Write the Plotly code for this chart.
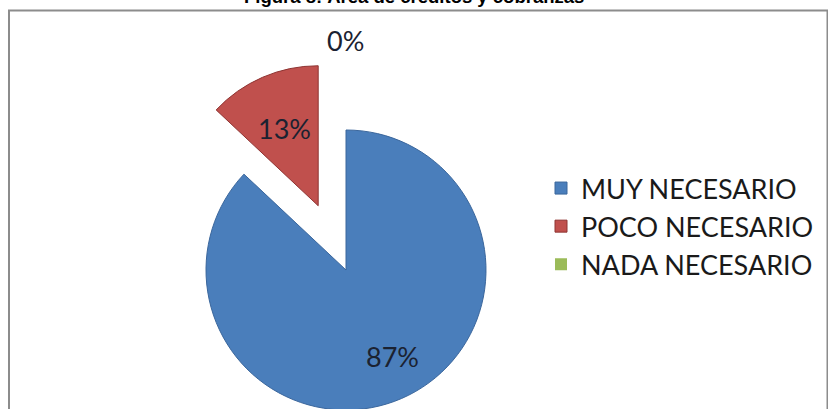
import math
import plotly.graph_objects as go

# Survey answers for the credits & collections area
categories = ["MUY NECESARIO", "POCO NECESARIO", "NADA NECESARIO"]
percentages = [87, 13, 0]
slice_colors = ["#4a7ebb", "#c0504d", "#9bbb59"]
edge_colors = ["#3a669c", "#8e3432", "#76923c"]
edge_widths = [1, 1, 0]
pulls = [0, 0.5, 0]
title_text = "Figura 8: Área de créditos y cobranzas"

# Canvas (taller than the visible window so the pie can run off the bottom edge)
W, H = 828, 480
CX, CY, R = 346, 270, 140          # pie centre and radius in pixels
box = R * (1 + max(pulls))         # plotly shrinks the pie to fit the pulled slice


def px(x):
    return x / W


def py(y):
    return 1 - y / H


fig = go.Figure()
fig.add_trace(go.Pie(
    labels=categories,
    values=percentages,
    sort=False,
    direction="clockwise",
    rotation=0,
    pull=pulls,
    marker=dict(colors=slice_colors, line=dict(color=edge_colors, width=edge_widths)),
    textinfo="none",
    hoverinfo="label+percent",
    domain=dict(x=[px(CX - box), px(CX + box)], y=[py(CY + box), py(CY - box)]),
))

# Percentage labels placed near each slice bisector
label_radius = [0.7, 0.6, 1.64]
label_turn = [-5, 0, 0]            # small angular nudge in degrees
total = sum(percentages)
start = 0.0
annotations = []
for val, pull, rr, turn in zip(percentages, pulls, label_radius, label_turn):
    span = 360.0 * val / total
    mid = math.radians(start + span / 2)
    ox = CX + pull * R * math.sin(mid)
    oy = CY - pull * R * math.cos(mid)
    lab = mid + math.radians(turn)
    lx = ox + rr * R * math.sin(lab)
    ly = oy - rr * R * math.cos(lab)
    annotations.append(dict(
        x=px(lx), y=py(ly), xref="paper", yref="paper",
        text=f"{round(100 * val / total)}%", showarrow=False,
        xanchor="center", yanchor="middle",
        font=dict(family="Lato, 'Open Sans', sans-serif", size=27, color="#1b2231"),
    ))
    start += span

annotations.append(dict(
    x=0.5, y=py(-3), xref="paper", yref="paper", text=f"<b>{title_text}</b>",
    showarrow=False, xanchor="center", yanchor="middle",
    font=dict(family="'Liberation Sans', Arial, sans-serif", size=18.5, color="#000000"),
))

fig.update_layout(
    width=W, height=H,
    margin=dict(l=0, r=0, t=0, b=0, autoexpand=False),
    paper_bgcolor="#ffffff",
    plot_bgcolor="#ffffff",
    showlegend=True,
    legend=dict(
        x=px(541), y=py(164), xanchor="left", yanchor="top",
        bgcolor="rgba(0,0,0,0)", borderwidth=0,
        font=dict(family="Lato, 'Open Sans', sans-serif", size=27, color="#1a1a1a"),
        itemclick=False, itemdoubleclick=False,
    ),
    annotations=annotations,
    shapes=[dict(
        type="rect", xref="paper", yref="paper",
        x0=px(9), x1=px(827.5), y0=py(10.5), y1=py(H + 20),
        line=dict(color="#8c8c8c", width=2), fillcolor="rgba(0,0,0,0)", layer="below",
    )],
)

fig.write_html(
    "out.html",
    config={"displayModeBar": False},
    post_script="document.documentElement.style.overflow='hidden';"
                "document.body.style.overflow='hidden';document.body.style.margin='0';",
)
